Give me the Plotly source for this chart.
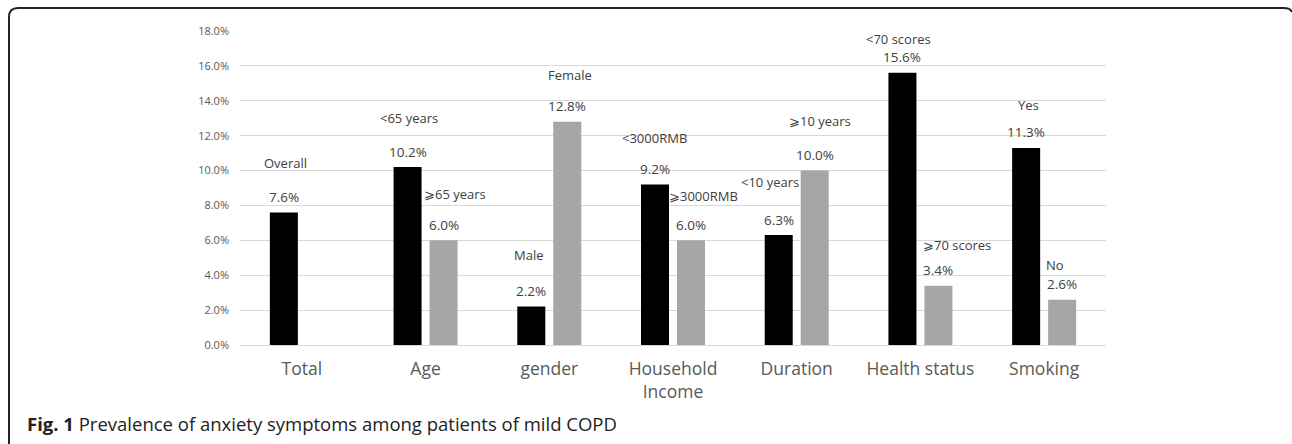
import plotly.graph_objects as go

# Prevalence (%) of anxiety symptoms by patient characteristic
categories = ["Total", "Age", "gender", "Household<br>Income", "Duration", "Health status", "Smoking"]
first_values = [7.6, 10.2, 2.2, 9.2, 6.3, 15.6, 11.3]
second_values = [None, 6.0, 12.8, 6.0, 10.0, 3.4, 2.6]
first_names = ["Overall", "<65 years", "Male", "<3000RMB", "<10 years", "<70 scores", "Yes"]
second_names = [None, "⩾65 years", "Female", "⩾3000RMB", "⩾10 years", "⩾70 scores", "No"]

# label nudges in pixels (dx, dy above the bar top)
first_name_dx = [2, 1, -2, -1, -9, -4, 2]
first_name_dy = [49, 49, 52, 47, 53, 34, 43]
second_name_dx = [0, 11, 3, 12, 5, 19, -7]
second_name_dy = [0, 46, 47, 44, 50, 41, 35]

W, H = 1292, 444
L, R, T, B = 240, 186, 31, 99
PW, PH = W - L - R, H - T - B
BAR_SHIFT = 18
VALUE_DY = 15.5
FONT = "Open Sans, sans-serif"


def px(x):
    return (x - L) / PW


def py(y):
    return (H - B - y) / PH


fig = go.Figure()
fig.add_trace(go.Bar(x=categories, y=first_values, marker_color="#000000",
                     marker_line_width=0, hoverinfo="skip"))
fig.add_trace(go.Bar(x=categories, y=second_values, marker_color="#a6a6a6",
                     marker_line_width=0, hoverinfo="skip"))

value_font = dict(family=FONT, size=13.5, color="#404040")
name_font = dict(family=FONT, size=13, color="#404040")
annotations = []
for i, cat in enumerate(categories):
    for vals, names, dxs, dys, shift in (
        (first_values, first_names, first_name_dx, first_name_dy, -BAR_SHIFT),
        (second_values, second_names, second_name_dx, second_name_dy, BAR_SHIFT),
    ):
        v = vals[i]
        if v is None:
            continue
        annotations.append(dict(x=cat, y=v, xref="x", yref="y", text=f"{v:.1f}%",
                                showarrow=False, xshift=shift, yshift=VALUE_DY,
                                xanchor="center", yanchor="middle", font=value_font))
        annotations.append(dict(x=cat, y=v, xref="x", yref="y", text=names[i],
                                showarrow=False, xshift=shift + dxs[i], yshift=dys[i],
                                xanchor="center", yanchor="middle", font=name_font))

annotations.append(dict(
    x=px(25), y=py(423), xref="paper", yref="paper", xanchor="left", yanchor="middle",
    showarrow=False,
    text="<b>Fig. 1</b> Prevalence of anxiety symptoms among patients of mild COPD",
    font=dict(family=FONT, size=18.5, color="#222222"),
))

# rounded figure frame (top edge and left side)
frame_path = (
    f"M {px(9)},{py(444)} L {px(9)},{py(17)} "
    f"Q {px(9)},{py(8)} {px(18)},{py(8)} "
    f"L {px(1284)},{py(8)} Q {px(1290)},{py(8)} {px(1292)},{py(12)}"
)

fig.update_layout(
    width=W, height=H,
    margin=dict(l=L, r=R, t=T, b=B),
    paper_bgcolor="white", plot_bgcolor="white",
    barmode="group", bargap=0.418, bargroupgap=0.222,
    showlegend=False,
    annotations=annotations,
    shapes=[dict(type="path", path=frame_path, xref="paper", yref="paper",
                 line=dict(color="#222222", width=2))],
    xaxis=dict(
        tickfont=dict(family=FONT, size=17.5, color="#595959"),
        ticks="outside", ticklen=8, tickcolor="rgba(0,0,0,0)",
        showline=False, showgrid=False,
    ),
    yaxis=dict(
        range=[0, 18], dtick=2, tickformat=".1f", ticksuffix="%",
        tickfont=dict(family=FONT, size=11, color="#595959"),
        showgrid=True, gridcolor="#d9d9d9", gridwidth=1,
        zeroline=True, zerolinecolor="#d9d9d9", zerolinewidth=1,
        showline=False, ticks="", ticklabelstandoff=10,
    ),
)

fig.write_html("out.html")
